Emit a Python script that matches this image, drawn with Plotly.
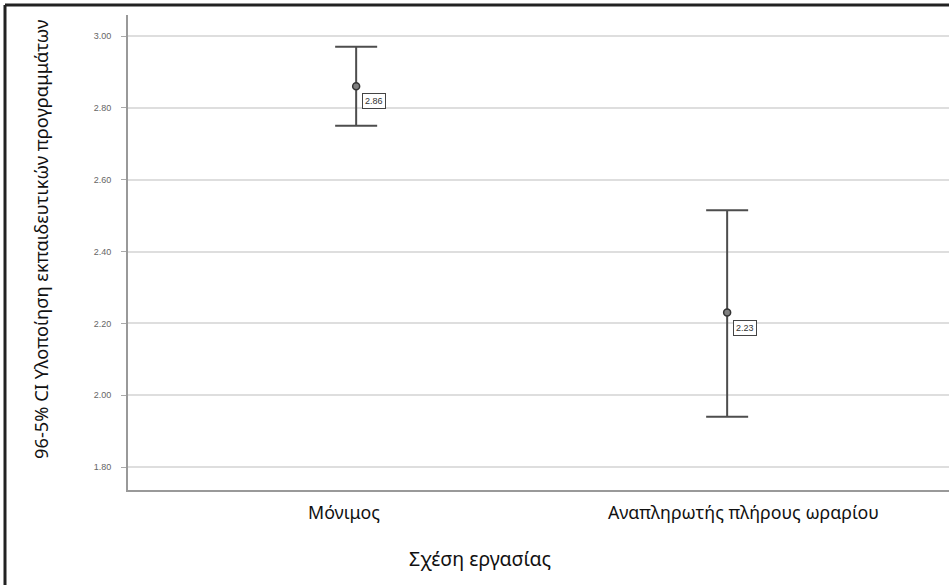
import plotly.graph_objects as go

categories = ["Μόνιμος", "Αναπληρωτής πλήρους ωραρίου"]
means = [2.86, 2.23]
upper = [2.97, 2.515]
lower = [2.75, 1.94]
mean_labels = ["2.86", "2.23"]
y_ticks = [1.80, 2.00, 2.20, 2.40, 2.60, 2.80, 3.00]
y_ticktext = ["1.80", "2.00", "2.20", "2.40", "2.60", "2.80", "3.00"]

x_idx = list(range(len(categories)))
err_plus = [u - m for u, m in zip(upper, means)]
err_minus = [m - l for m, l in zip(means, lower)]

W, H = 949, 585
L, R, T, B = 128, 0, 15, 95
pw = W - L - R
ph = H - T - B

def px(x):
    return (x - L) / pw

def py(y):
    return (H - B - y) / ph

fig = go.Figure()
fig.add_trace(go.Scatter(
    x=x_idx, y=means, mode="markers",
    marker=dict(size=7, color="#808080", line=dict(width=1.5, color="#333333")),
    error_y=dict(type="data", symmetric=False, array=err_plus, arrayminus=err_minus,
                 thickness=2, width=21, color="#4d4d4d"),
    showlegend=False, hoverinfo="skip",
))

for xi, m, lab in zip(x_idx, means, mean_labels):
    fig.add_annotation(x=xi, y=m, text=lab, showarrow=False, xanchor="left", yanchor="middle",
                       xshift=6, yshift=-15, font=dict(size=9, color="#333333", family="Liberation Sans"),
                       bordercolor="#444444", borderwidth=1, borderpad=2, bgcolor="white")

# category labels (slightly offset from the tick centres as in the original)
cat_shift = [-12, 16]
for xi, cat, sh in zip(x_idx, categories, cat_shift):
    fig.add_annotation(x=xi, xref="x", yref="paper", y=py(512), text=cat, showarrow=False,
                       xanchor="center", yanchor="middle", xshift=sh,
                       font=dict(size=17.8, color="#111111", family="Noto Sans"))

fig.update_xaxes(
    range=[-0.615, 1.598], tickmode="array", tickvals=x_idx, ticktext=["", ""],
    showgrid=False, zeroline=False, showline=True, linecolor="#999999", linewidth=2,
    ticks="", showticklabels=True,
)
fig.update_yaxes(
    range=[1.736, 3.0585], tickmode="array", tickvals=y_ticks, ticktext=y_ticktext,
    showgrid=True, gridcolor="#dedede", gridwidth=2, zeroline=False,
    showline=True, linecolor="#999999", linewidth=2,
    ticks="outside", ticklen=5, tickcolor="#aaaaaa", ticklabelstandoff=8,
    tickfont=dict(size=9, color="#666666", family="Liberation Sans"),
)

fig.add_annotation(xref="paper", yref="paper", x=px(40), y=py(240),
                   text="96-5% CI Υλοποίηση εκπαιδευτικών προγραμμάτων", textangle=-90,
                   showarrow=False, xanchor="center", yanchor="middle",
                   font=dict(size=18.3, color="#111111", family="Noto Sans"))
fig.add_annotation(xref="paper", yref="paper", x=px(480), y=py(558),
                   text="Σχέση εργασίας", showarrow=False, xanchor="center", yanchor="middle",
                   font=dict(size=19.5, color="#111111", family="Noto Sans"))

# outer frame (top and left)
fig.add_shape(type="line", xref="paper", yref="paper", x0=px(5), x1=px(W), y0=py(5), y1=py(5),
              line=dict(color="#222222", width=3))
fig.add_shape(type="line", xref="paper", yref="paper", x0=px(5), x1=px(5), y0=py(5), y1=py(H),
              line=dict(color="#222222", width=3))

fig.update_layout(
    width=W, height=H, margin=dict(l=L, r=R, t=T, b=B),
    plot_bgcolor="white", paper_bgcolor="white",
)

fig.write_html("out.html", config={"displayModeBar": False},
               post_script="document.body.style.margin='0';document.body.style.overflow='hidden';")
